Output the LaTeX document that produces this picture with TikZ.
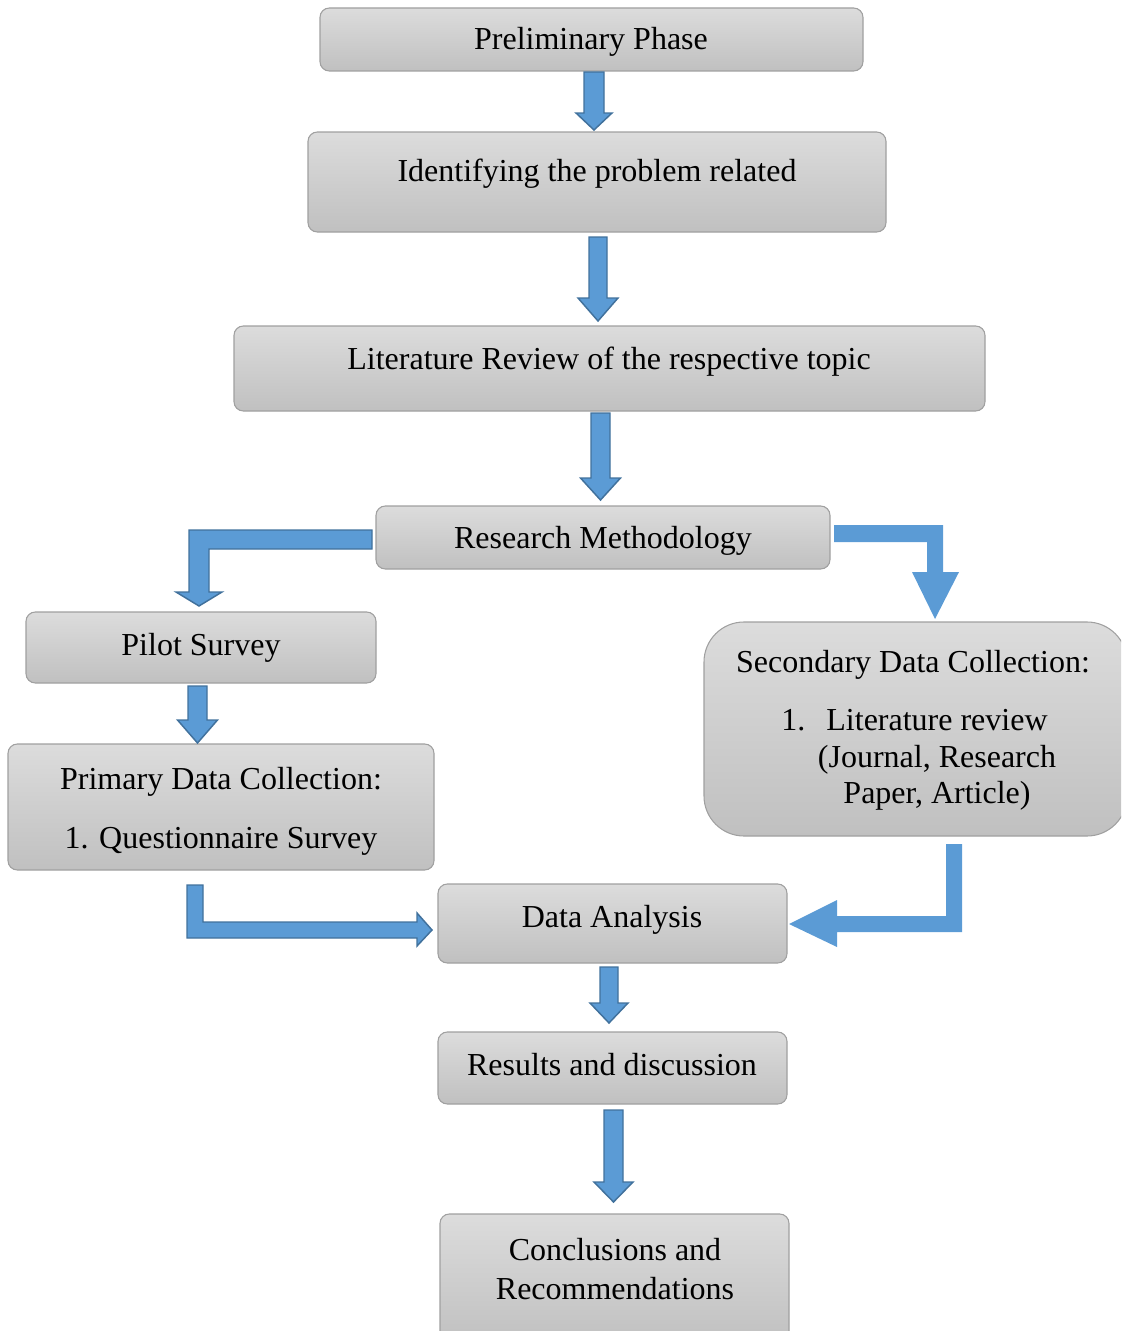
\documentclass[tikz,border=0pt]{standalone}
\usepackage{fontspec}
\setmainfont{Liberation Serif}
\usetikzlibrary{calc}
% box node: name, x1, y1, x2, y2 (px)
\newcommand\boxnode[6][]{\node[box,#1,anchor=north west,minimum width={(#4-#2)*0.75pt},minimum height={(#5-#3)*0.75pt}] (#6) at (#2,#3) {};}
% vertical block arrow: style, from node, to node, x centre, shaft half, head half, gap top, gap bottom, head length (px)
\newcommand\downarrowblk[9]{%
  \path[#1] let \p1=(#2.south), \p2=(#3.north) in
    ({(#4-#5)*0.75pt},{\y1-#7*0.75pt}) -- ({(#4+#5)*0.75pt},{\y1-#7*0.75pt})
    -- ({(#4+#5)*0.75pt},{\y2+(#8+#9)*0.75pt}) -- ({(#4+#6)*0.75pt},{\y2+(#8+#9)*0.75pt})
    -- ({#4*0.75pt},{\y2+#8*0.75pt})
    -- ({(#4-#6)*0.75pt},{\y2+(#8+#9)*0.75pt}) -- ({(#4-#5)*0.75pt},{\y2+(#8+#9)*0.75pt}) -- cycle;}
\begin{document}
\begin{tikzpicture}[x=0.75pt,y=-0.75pt,
  box/.style={draw={rgb,255:red,160;green,160;blue,160},line width=0.8pt,
    top color={rgb,255:red,220;green,220;blue,220},bottom color={rgb,255:red,192;green,192;blue,192},
    rounded corners=7pt,inner sep=0pt,outer sep=0pt},
  lbl/.style={anchor=base,inner sep=0pt,font=\fontsize{24}{29}\selectfont},
  barrow/.style={fill={rgb,255:red,91;green,155;blue,213},draw={rgb,255:red,65;green,113;blue,156},line width=1.1pt,line join=miter},
  farrow/.style={fill={rgb,255:red,91;green,155;blue,213}}]
\useasboundingbox (0,0) rectangle (1121,1331);
\clip (0,0) rectangle (1121,1331);
% boxes
\boxnode{320}{8}{863}{71}{n1}
\node[lbl] (t1) at (591,50) {Preliminary Phase};
\boxnode{308}{132}{886}{232}{n2}
\node[lbl] (t2) at (597,181) {Identifying the problem related};
\boxnode{234}{326}{985}{411}{n3}
\node[lbl] (t3) at (609,369) {Literature Review of the respective topic};
\boxnode{376}{506}{830}{569}{n4}
\node[lbl] (t4) at (603,548) {Research Methodology};
\boxnode{26}{612}{376}{683}{n5}
\node[lbl] (t5) at (201,655) {Pilot Survey};
\boxnode{8}{744}{434}{870}{n6}
\node[lbl] (t6a) at (221,789) {Primary Data Collection:};
\node[lbl] (t6b) at (221,848) {1. Questionnaire Survey};
\boxnode[rounded corners=30pt]{704}{622}{1127}{836}{n7}
\node[lbl] (t7a) at (913,672) {Secondary Data Collection:};
\node[lbl,anchor=base west] (t7n) at (781,730) {1.};
\node[lbl] (t7b) at (937,730) {Literature review};
\node[lbl] (t7c) at (937,767) {(Journal, Research};
\node[lbl] (t7d) at (937,803) {Paper, Article)};
\boxnode{438}{884}{787}{963}{n8}
\node[lbl] (t8) at (612,927) {Data Analysis};
\boxnode{438}{1032}{787}{1104}{n9}
\node[lbl] (t9) at (612,1075) {Results and discussion};
\boxnode{440}{1214}{789}{1345}{n10}
\node[lbl] (t10a) at (615,1260) {Conclusions and};
\node[lbl] (t10b) at (615,1299) {Recommendations};
% straight block arrows
\downarrowblk{barrow}{n1}{n2}{594}{10}{18}{1}{2}{17}
\downarrowblk{barrow}{n2}{n3}{598}{9}{20}{5}{5}{23}
\downarrowblk{barrow}{n3}{n4}{600.5}{9.5}{20}{2}{6}{22}
\downarrowblk{barrow}{n5}{n6}{197.5}{9.5}{20}{3}{1}{23}
\downarrowblk{barrow}{n8}{n9}{609}{9}{19}{4}{9}{20}
\downarrowblk{barrow}{n9}{n10}{613.5}{9.5}{19.5}{6}{12}{20}
% elbow block arrows
\path[barrow] let \p1=(n4.west), \p2=(n5.north) in
  ({\x1-3pt},530) -- ({\x1-3pt},549) -- (209,549) -- (209,{\y2+20*0.75pt}) -- (222,{\y2+20*0.75pt})
  -- (199,{\y2+6*0.75pt}) -- (176,{\y2+20*0.75pt}) -- (189,{\y2+20*0.75pt}) -- (189,530) -- cycle;
\path[farrow] let \p1=(n4.east), \p2=(n7.north) in
  ({\x1+3pt},525) -- (943,525) -- (943,{\y2+50*0.75pt}) -- (959,{\y2+50*0.75pt})
  -- (935,{\y2+3*0.75pt}) -- (912,{\y2+50*0.75pt}) -- (927,{\y2+50*0.75pt}) -- (927,542) -- ({\x1+3pt},542) -- cycle;
\path[barrow] let \p1=(n6.south), \p2=(n8.west) in
  (187,{\y1-15*0.75pt}) -- (203,{\y1-15*0.75pt}) -- (203,922) -- ({\x2-21*0.75pt},922) -- ({\x2-21*0.75pt},913)
  -- ({\x2-6*0.75pt},930) -- ({\x2-21*0.75pt},946) -- ({\x2-21*0.75pt},938) -- (187,938) -- cycle;
\path[farrow] let \p1=(n7.south), \p2=(n8.east) in
  (946,{\y1-8*0.75pt}) -- (962,{\y1-8*0.75pt}) -- (962,932) -- ({\x2+50*0.75pt},932) -- ({\x2+50*0.75pt},947)
  -- ({\x2+2*0.75pt},924) -- ({\x2+50*0.75pt},900) -- ({\x2+50*0.75pt},916) -- (946,916) -- cycle;
\end{tikzpicture}
\end{document}
